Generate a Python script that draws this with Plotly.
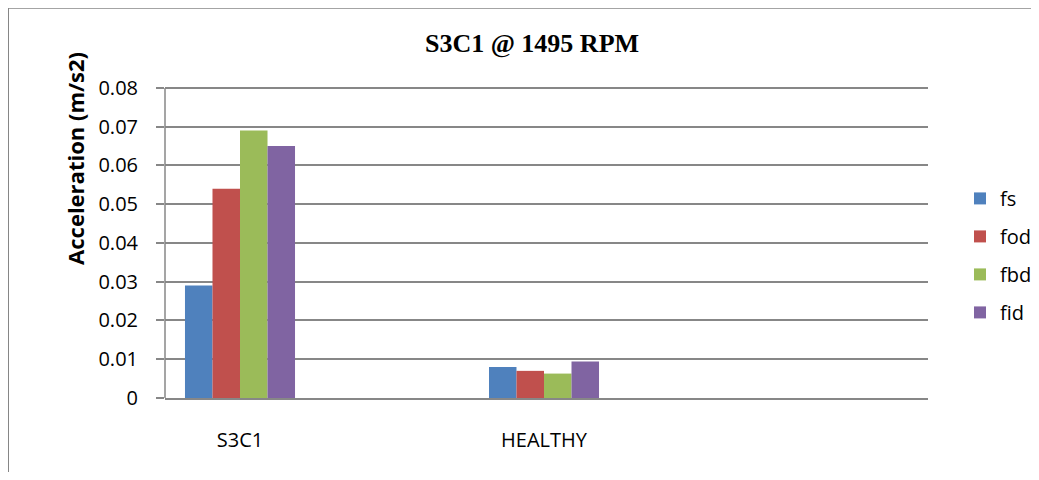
import plotly.graph_objects as go

# values
categories = ["S3C1", "HEALTHY", " "]
fs = [0.029, 0.008, None]
fod = [0.054, 0.007, None]
fbd = [0.069, 0.0063, None]
fid = [0.065, 0.0094, None]

series = [("fs", fs, "#4F81BD"), ("fod", fod, "#C0504D"),
          ("fbd", fbd, "#9BBB59"), ("fid", fid, "#8064A2")]

grid = "#878787"
label_font = dict(family="Open Sans, sans-serif", size=20, color="#000000")

fig = go.Figure()
for name, vals, col in series:
    fig.add_trace(go.Bar(x=categories, y=vals, name=name, marker_color=col,
                         marker_line_width=0, legendgroup=name))

# page has an 8px body margin, so work in figure coords = page coords - 8
# (and keep the figure small enough that no scrollbar shows up)
off = 8
W, H = 1039 - 2 * off, 480 - 2 * off
# 0.08 sits at page y=88, zero at y=398; extend the top a bit so the 0.08 gridline shows
ymax = 0.081
L, R, B = 165 - off, 928 - off, 398 - off
T = B - (398 - 88) * ymax / 0.08
pw, ph = R - L, B - T

fig.update_layout(
    width=W, height=H,
    margin=dict(l=L, r=W - R, t=T, b=H - B, autoexpand=False),
    paper_bgcolor="white", plot_bgcolor="white",
    barmode="group", bargap=0.638, bargroupgap=0,
    title=dict(text="<b>S3C1 @ 1495 RPM</b>", x=(532 - off) / W, xanchor="center",
               y=1 - (43 - off) / H, yanchor="middle",
               font=dict(family="Liberation Serif, Times New Roman, serif", size=26, color="#000")),
    font=label_font,
    legend=dict(x=(960 - off - L) / pw, xanchor="left", y=(B - (179 - off)) / ph, yanchor="top",
                font=label_font, tracegroupgap=9, itemwidth=30),
    showlegend=True,
)

fig.update_xaxes(range=[-(240 - 165) / 304, (928 - 240) / 304], showgrid=False,
                 showline=True, linecolor=grid, linewidth=2, ticks="",
                 ticklabelstandoff=23, tickfont=label_font, automargin=False)
fig.update_yaxes(range=[0, ymax], dtick=0.01, tickformat="", showgrid=True,
                 gridcolor=grid, gridwidth=2, zeroline=False,
                 showline=False,
                 ticks="outside", ticklen=8, tickcolor=grid, tickwidth=2,
                 ticklabelstandoff=14, tickfont=label_font, automargin=False)

# left axis line stops at the 0.08 gridline
fig.add_shape(type="line", xref="paper", yref="y", x0=0, x1=0, y0=0, y1=0.08,
              line=dict(color=grid, width=1.5))

# y axis title
fig.add_annotation(text="<b>Acceleration (m/s2)</b>", textangle=-90,
                   xref="paper", yref="paper", x=(75 - off - L) / pw, y=(B - (159 - off)) / ph,
                   xanchor="center", yanchor="middle", showarrow=False,
                   font=dict(family="Open Sans, sans-serif", size=22, color="#000"))

# outer chart border (only left and top edges are in view)
fig.add_shape(type="line", xref="paper", yref="paper",
              x0=(0 - L) / pw, x1=(0 - L) / pw, y0=(B - (H + 10)) / ph, y1=(B - 0) / ph,
              line=dict(color="#868686", width=2))
fig.add_shape(type="line", xref="paper", yref="paper",
              x0=(0 - L) / pw, x1=(W + 10 - L) / pw, y0=(B - 0) / ph, y1=(B - 0) / ph,
              line=dict(color="#868686", width=2))

fig.write_html("out.html")
